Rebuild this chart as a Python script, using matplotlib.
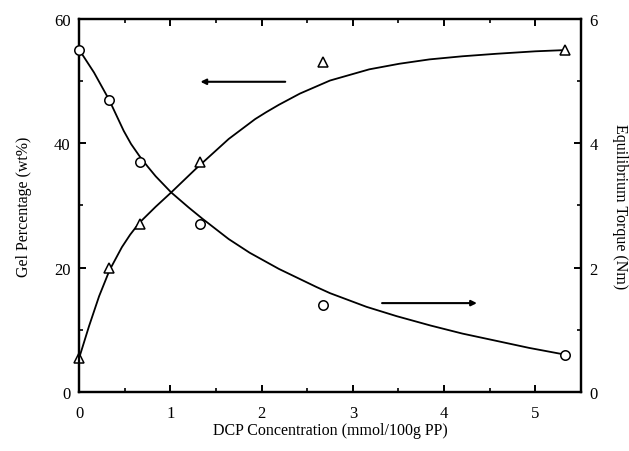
import numpy as np
import matplotlib
matplotlib.use('Agg')
import matplotlib.pyplot as plt

plt.rcParams['font.family'] = ['Liberation Serif', 'DejaVu Serif']

# measured points
dcp = [0.0, 0.33, 0.67, 1.33, 2.67, 5.33]
gel = [5.5, 20.0, 27.0, 37.0, 53.0, 55.0]          # wt%
torque = [5.5, 4.7, 3.7, 2.7, 1.4, 0.6]            # Nm

# fitted curves
gel_fit_x = [0.0, 0.11, 0.22, 0.335, 0.47, 0.56, 0.66, 0.84, 1.01, 1.28, 1.64, 1.93, 2.05, 2.19,
             2.42, 2.75, 3.18, 3.51, 3.84, 4.2, 4.57, 5.0, 5.33]
gel_fit_y = [5.4, 10.6, 15.4, 19.6, 23.3, 25.3, 27.2, 29.8, 32.1, 35.9, 40.7, 43.9, 45.0, 46.2,
             48.0, 50.1, 51.9, 52.8, 53.5, 54.0, 54.4, 54.8, 55.0]
tq_fit_x = [0.0, 0.164, 0.33, 0.49, 0.57, 0.66, 0.75, 0.84, 1.01, 1.20, 1.35, 1.64, 1.87, 2.19,
            2.6, 2.75, 3.15, 3.48, 3.85, 4.2, 4.55, 4.93, 5.33]
tq_fit_y = [5.51, 5.14, 4.70, 4.20, 3.99, 3.80, 3.63, 3.47, 3.21, 2.97, 2.79, 2.46, 2.24, 1.98,
            1.69, 1.59, 1.37, 1.22, 1.07, 0.94, 0.83, 0.71, 0.60]

fig = plt.figure(figsize=(6.29, 4.52), dpi=100)
ax = fig.add_axes([0.1256, 0.1305, 0.7981, 0.8253])
ax2 = ax.twinx()

ax.plot(gel_fit_x, gel_fit_y, color='black', linewidth=1.3)
ax.plot(dcp, gel, linestyle='none', marker='^', markersize=7.5, markerfacecolor='white',
        markeredgecolor='black', markeredgewidth=1.1, clip_on=False, zorder=5)
ax2.plot(tq_fit_x, tq_fit_y, color='black', linewidth=1.3)
ax2.plot(dcp, torque, linestyle='none', marker='o', markersize=6.8, markerfacecolor='white',
         markeredgecolor='black', markeredgewidth=1.1, clip_on=False, zorder=5)

# arrows pointing to the relevant axis
ax.annotate('', xy=(1.30, 49.9), xytext=(2.29, 49.9),
            arrowprops=dict(arrowstyle='-|>', color='black', lw=1.5, mutation_scale=8))
ax.annotate('', xy=(4.39, 14.3), xytext=(3.29, 14.3),
            arrowprops=dict(arrowstyle='-|>', color='black', lw=1.5, mutation_scale=8))

ax.set_xlim(0, 5.5)
ax.set_ylim(0, 60)
ax2.set_ylim(0, 6)
ax.set_xticks([0, 1, 2, 3, 4, 5])
ax.set_xticks([0.5, 1.5, 2.5, 3.5, 4.5], minor=True)
ax.set_yticks([0, 20, 40, 60])
ax.set_yticks([10, 30, 50], minor=True)
ax2.set_yticks([0, 2, 4, 6])
ax2.set_yticks([1, 3, 5], minor=True)

ax.set_xlabel('DCP Concentration (mmol/100g PP)', fontsize=11.5, labelpad=1)
ax.set_ylabel('Gel Percentage (wt%)', fontsize=11.5, labelpad=16)
ax2.set_ylabel('Equilibrium Torque (Nm)', fontsize=11.5, rotation=270, labelpad=22)

for a in (ax, ax2):
    for s in a.spines.values():
        s.set_linewidth(1.6)
ax.tick_params(axis='x', which='both', direction='in', top=True, labelsize=12, pad=9)
ax.tick_params(axis='y', which='both', direction='in', right=False, labelsize=12, pad=6)
ax2.tick_params(axis='y', which='both', direction='in', labelsize=12, pad=6)
for a in (ax, ax2):
    a.tick_params(which='major', length=5, width=1.4)
    a.tick_params(which='minor', length=3, width=1.2)

fig.savefig('out.png', dpi=100)
